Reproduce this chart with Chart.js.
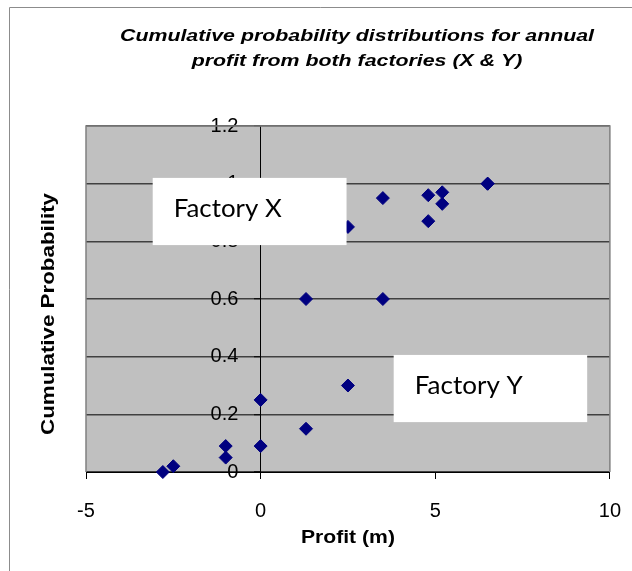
<!DOCTYPE html>
<html>
<head>
<meta charset="utf-8">
<script src="https://cdn.jsdelivr.net/npm/chart.js@4.4.1/dist/chart.umd.min.js"></script>
<style>
  html, body { margin: 0; padding: 0; background: #fff; }
  canvas { display: block; }
</style>
</head>
<body>
<canvas id="cdf" width="632" height="571"></canvas>
<script>
// profit (m) vs cumulative probability
const profitX = [-2.8, -1, 0, 1.3, 2.5, 3.5, 4.8, 5.2, 6.5]
const cumProbX = [0, 0.09, 0.25, 0.6, 0.85, 0.95, 0.96, 0.97, 1.0]
const profitY = [-2.5, -1, 0, 1.3, 2.5, 3.5, 4.8, 5.2, 6.5]
const cumProbY = [0.02, 0.05, 0.09, 0.15, 0.3, 0.6, 0.87, 0.93, 1.0]

const titleLines = ['Cumulative probability distributions for annual', 'profit from both factories (X & Y)']
const xTitle = 'Profit (m)'
const yTitle = 'Cumulative Probability'
const seriesNames = ['Factory X', 'Factory Y']

const fontFam = '"Liberation Sans", Arial, sans-serif'

function toPoints(xs, ys) {
    return xs.map((v, i) => ({ x: v, y: ys[i] }))
}

// draw text squeezed/stretched to a given width
function fitText(ctx, text, x, y, font, width, angle) {
    ctx.save()
    ctx.font = font
    const w = ctx.measureText(text).width
    ctx.translate(x, y)
    if (angle) ctx.rotate(angle)
    ctx.scale(width / w, 1)
    ctx.textAlign = 'center'
    ctx.textBaseline = 'alphabetic'
    ctx.fillStyle = '#000'
    ctx.fillText(text, 0, 0)
    ctx.restore()
}

const excelLook = {
    id: 'excelLook',
    beforeDraw(chart) {
        const { ctx, chartArea: a } = chart
        ctx.save()
        ctx.fillStyle = '#fff'
        ctx.fillRect(0, 0, chart.width, chart.height)
        // chart area frame (only top and left are inside the picture)
        ctx.strokeStyle = '#8c8c8c'
        ctx.lineWidth = 1
        ctx.beginPath()
        ctx.moveTo(9.5, chart.height)
        ctx.lineTo(9.5, 7.5)
        ctx.lineTo(chart.width, 7.5)
        ctx.stroke()
        ctx.fillStyle = '#c0c0c0'
        ctx.fillRect(a.left, a.top, a.right - a.left, a.bottom - a.top)
        ctx.restore()
    },
    beforeDatasetsDraw(chart) {
        const { ctx, chartArea: a } = chart
        ctx.save()
        ctx.strokeStyle = '#808080'
        ctx.lineWidth = 1.5
        ctx.beginPath()
        ctx.moveTo(a.left, a.bottom)
        ctx.lineTo(a.left, a.top)
        ctx.lineTo(a.right, a.top)
        ctx.lineTo(a.right, a.bottom)
        ctx.stroke()
        ctx.restore()
    },
    afterDatasetsDraw(chart) {
        const { ctx } = chart
        const sx = chart.scales.x, sy = chart.scales.y
        const boxes = [
            { text: seriesNames[0], x0: -3.09, x1: 2.46, y0: 1.02, y1: 0.787 },
            { text: seriesNames[1], x0: 3.81, x1: 9.35, y0: 0.406, y1: 0.173 }
        ]
        ctx.save()
        boxes.forEach(b => {
            const l = sx.getPixelForValue(b.x0), r = sx.getPixelForValue(b.x1)
            const t = sy.getPixelForValue(b.y0), btm = sy.getPixelForValue(b.y1)
            ctx.fillStyle = '#fff'
            ctx.fillRect(l, t, r - l, btm - t)
            fitText(ctx, b.text, l + 21 + 54, t + 39, '25px Lato', 108)
        })
        ctx.restore()
    },
    afterDraw(chart) {
        const { ctx, chartArea: a } = chart
        // title, both lines share the same stretch
        ctx.save()
        ctx.font = 'italic bold 17px ' + fontFam
        const k = 474 / ctx.measureText(titleLines[0]).width
        fitText(ctx, titleLines[0], 357, 41, ctx.font, 474)
        fitText(ctx, titleLines[1], 357, 66, ctx.font, ctx.measureText(titleLines[1]).width * k)
        ctx.restore()
        fitText(ctx, xTitle, (a.left + a.right) / 2, 543, 'bold 19px ' + fontFam, 94)
        fitText(ctx, yTitle, 54, 314, 'bold 19px ' + fontFam, 242, -Math.PI / 2)
    }
}

const diamond = {
    pointStyle: 'rectRot',
    pointRadius: 6.5,
    pointHoverRadius: 6.5,
    backgroundColor: '#000080',
    borderColor: '#000080',
    borderWidth: 1,
    showLine: false,
    clip: false
}

// tall line height pushes the x labels down without widening the side padding
const xTickFont = { family: fontFam, size: 20, lineHeight: 2.25 }
const yTickFont = { family: fontFam, size: 20 }

new Chart(document.getElementById('cdf'), {
    type: 'scatter',
    data: {
        datasets: [
            Object.assign({ label: seriesNames[0], data: toPoints(profitX, cumProbX) }, diamond),
            Object.assign({ label: seriesNames[1], data: toPoints(profitY, cumProbY) }, diamond)
        ]
    },
    options: {
        responsive: false,
        animation: false,
        events: [],
        layout: { padding: { left: 86, right: 22, top: 126, bottom: 99 } },
        plugins: {
            legend: { display: false },
            title: { display: false },
            tooltip: { enabled: false }
        },
        scales: {
            x: {
                type: 'linear',
                position: { y: 0 },
                min: -5,
                max: 10,
                ticks: { stepSize: 5, color: '#000', font: xTickFont, padding: 11 },
                grid: { drawOnChartArea: false, color: '#000', tickLength: 6 },
                border: { color: '#000', width: 1 }
            },
            y: {
                type: 'linear',
                position: { x: 0 },
                min: 0,
                max: 1.2,
                ticks: {
                    stepSize: 0.2,
                    color: '#000',
                    font: yTickFont,
                    // labels sit left of the axis at x = 0, keep a gap
                    callback: v => Math.round(v * 10) / 10 + '    '
                },
                grid: { color: '#404040', lineWidth: 1.5, tickColor: '#000', tickWidth: 1, tickLength: 6 },
                border: { color: '#000', width: 1 }
            }
        }
    },
    plugins: [excelLook]
})
</script>
</body>
</html>
